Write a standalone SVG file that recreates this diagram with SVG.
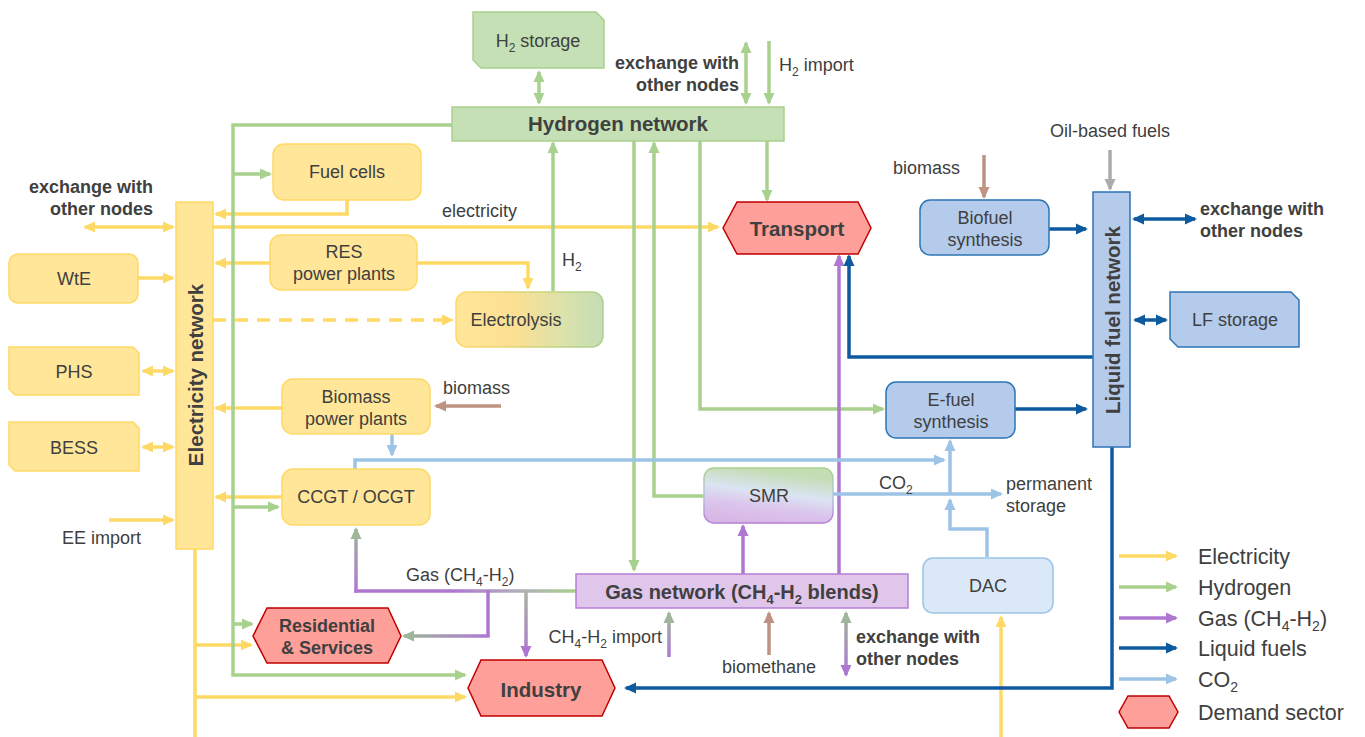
<svg xmlns="http://www.w3.org/2000/svg" width="1365" height="737" viewBox="0 0 1365 737">
<style>
.t{font-family:"Liberation Sans",Arial,sans-serif;font-size:18px;fill:#404040}
.b{font-weight:bold}
.c{text-anchor:middle}
.r{text-anchor:end}
.net{font-family:"Liberation Sans",Arial,sans-serif;font-size:20.5px;font-weight:bold;fill:#404040;text-anchor:middle}
.leg{font-family:"Liberation Sans",Arial,sans-serif;font-size:21.5px;fill:#404040}
.ln{fill:none;stroke-width:3.5}
.y{stroke:#FFD966}
.g{stroke:#A9D18E}
.p{stroke:#AE78D2}
.bl{stroke:#0E5A9E}
.co{stroke:#9DC3E6}
.br{stroke:#BF9382}
.gr{stroke:#ABABAB}
.eN{fill:#FFE699;stroke:#FFD966;stroke-width:1.5}
.hN{fill:#C5E0B4;stroke:#A9D18E;stroke-width:1.5}
.lN{fill:#B4CBEB;stroke:#2E75B6;stroke-width:1.5}
.gN{fill:#E1C6EB;stroke:#B57FD6;stroke-width:1.5}
.dN{fill:#FF9F99;stroke:#C00000;stroke-width:1.5}
.cN{fill:#DAE8F7;stroke:#9DC3E6;stroke-width:1.5}
</style>
<defs>
<marker id="mY" viewBox="0 0 12 12" refX="10" refY="6" markerWidth="12" markerHeight="12" markerUnits="userSpaceOnUse" orient="auto-start-reverse"><path d="M0,0.5 L12,6 L0,11.5z" fill="#FFD966"/></marker>
<marker id="mG" viewBox="0 0 12 12" refX="10" refY="6" markerWidth="12" markerHeight="12" markerUnits="userSpaceOnUse" orient="auto-start-reverse"><path d="M0,0.5 L12,6 L0,11.5z" fill="#A9D18E"/></marker>
<marker id="mP" viewBox="0 0 12 12" refX="10" refY="6" markerWidth="12" markerHeight="12" markerUnits="userSpaceOnUse" orient="auto-start-reverse"><path d="M0,0.5 L12,6 L0,11.5z" fill="#AE78D2"/></marker>
<marker id="mB" viewBox="0 0 12 12" refX="10" refY="6" markerWidth="12" markerHeight="12" markerUnits="userSpaceOnUse" orient="auto-start-reverse"><path d="M0,0.5 L12,6 L0,11.5z" fill="#0E5A9E"/></marker>
<marker id="mC" viewBox="0 0 12 12" refX="10" refY="6" markerWidth="12" markerHeight="12" markerUnits="userSpaceOnUse" orient="auto-start-reverse"><path d="M0,0.5 L12,6 L0,11.5z" fill="#9DC3E6"/></marker>
<marker id="mBr" viewBox="0 0 12 12" refX="10" refY="6" markerWidth="12" markerHeight="12" markerUnits="userSpaceOnUse" orient="auto-start-reverse"><path d="M0,0.5 L12,6 L0,11.5z" fill="#BF9382"/></marker>
<marker id="mGr" viewBox="0 0 12 12" refX="10" refY="6" markerWidth="12" markerHeight="12" markerUnits="userSpaceOnUse" orient="auto-start-reverse"><path d="M0,0.5 L12,6 L0,11.5z" fill="#ABABAB"/></marker>
<marker id="mGG" viewBox="0 0 12 12" refX="10" refY="6" markerWidth="12" markerHeight="12" markerUnits="userSpaceOnUse" orient="auto-start-reverse"><path d="M0,0.5 L12,6 L0,11.5z" fill="#9FB69B"/></marker>
<linearGradient id="gElec" x1="0" y1="0" x2="1" y2="0"><stop offset="0" stop-color="#FFE699"/><stop offset="0.4" stop-color="#FCDF93"/><stop offset="0.72" stop-color="#DCE2AA"/><stop offset="1" stop-color="#C5DDB5"/></linearGradient>
<linearGradient id="gElecS" x1="0" y1="0" x2="1" y2="0"><stop offset="0" stop-color="#FFD966"/><stop offset="1" stop-color="#A9D18E"/></linearGradient>
<linearGradient id="gSMR" x1="0.35" y1="1" x2="0.65" y2="0"><stop offset="0" stop-color="#D8B6E6"/><stop offset="0.3" stop-color="#DCC6EC"/><stop offset="0.55" stop-color="#DAE4F3"/><stop offset="0.9" stop-color="#C5DDB5"/></linearGradient>
<linearGradient id="gSMRs" x1="0" y1="0" x2="0" y2="1"><stop offset="0" stop-color="#A9D18E"/><stop offset="0.5" stop-color="#B5C6E0"/><stop offset="1" stop-color="#B57FD6"/></linearGradient>
<linearGradient id="gGasH" gradientUnits="userSpaceOnUse" x1="576" y1="0" x2="356" y2="0"><stop offset="0" stop-color="#A9D18E"/><stop offset="0.3" stop-color="#B3A8BC"/><stop offset="0.55" stop-color="#AE78D2"/></linearGradient>
<linearGradient id="gGasV" gradientUnits="userSpaceOnUse" x1="0" y1="591" x2="0" y2="527"><stop offset="0" stop-color="#AE78D2"/><stop offset="1" stop-color="#9FB69B"/></linearGradient>
<linearGradient id="gRes" gradientUnits="userSpaceOnUse" x1="488" y1="0" x2="404" y2="0"><stop offset="0" stop-color="#AE78D2"/><stop offset="1" stop-color="#9FB69B"/></linearGradient>
<linearGradient id="gInd" gradientUnits="userSpaceOnUse" x1="0" y1="591" x2="0" y2="657"><stop offset="0" stop-color="#A9B4A2"/><stop offset="1" stop-color="#AE78D2"/></linearGradient>
<linearGradient id="gImp" gradientUnits="userSpaceOnUse" x1="0" y1="657" x2="0" y2="613"><stop offset="0" stop-color="#AE78D2"/><stop offset="1" stop-color="#9FB69B"/></linearGradient>
<linearGradient id="gExc" gradientUnits="userSpaceOnUse" x1="0" y1="611" x2="0" y2="677"><stop offset="0" stop-color="#9FB69B"/><stop offset="1" stop-color="#AE78D2"/></linearGradient>
</defs>
<rect width="1365" height="737" fill="#FFFFFF"/>

<g id="connectors">
<!-- electricity -->
<path class="ln y" d="M85,227 H173" marker-start="url(#mY)" marker-end="url(#mY)"/>
<path class="ln y" d="M347,200 V214 H216" marker-end="url(#mY)"/>
<path class="ln y" d="M213,227 H718" marker-end="url(#mY)"/>
<path class="ln y" d="M270,263 H216" marker-end="url(#mY)"/>
<path class="ln y" d="M417,263 H528 V288" marker-end="url(#mY)"/>
<path class="ln y" d="M213,320 H452" stroke-dasharray="13,9" marker-end="url(#mY)"/>
<path class="ln y" d="M138,278 H173" marker-end="url(#mY)"/>
<path class="ln y" d="M143,371 H173" marker-start="url(#mY)" marker-end="url(#mY)"/>
<path class="ln y" d="M143,447 H173" marker-start="url(#mY)" marker-end="url(#mY)"/>
<path class="ln y" d="M109,520 H173" marker-end="url(#mY)"/>
<path class="ln y" d="M282,408 H216" marker-end="url(#mY)"/>
<path class="ln y" d="M282,497 H216" marker-end="url(#mY)"/>
<path class="ln y" d="M195,549 V737"/>
<path class="ln y" d="M195,645 H251" marker-end="url(#mY)"/>
<path class="ln y" d="M195,697 H465" marker-end="url(#mY)"/>
<path class="ln y" d="M1001,737 V617" marker-end="url(#mY)"/>
<!-- hydrogen -->
<path class="ln g" d="M452,125 H233 V675 H465" marker-end="url(#mG)"/>
<path class="ln g" d="M233,174 H270" marker-end="url(#mG)"/>
<path class="ln g" d="M233,507 H278" marker-end="url(#mG)"/>
<path class="ln g" d="M233,624 H252" marker-end="url(#mG)"/>
<path class="ln g" d="M539,72 V103" marker-start="url(#mG)" marker-end="url(#mG)"/>
<path class="ln g" d="M746,43 V103" marker-start="url(#mG)" marker-end="url(#mG)"/>
<path class="ln g" d="M769,41 V103" marker-end="url(#mG)"/>
<path class="ln g" d="M553,291 V143" marker-end="url(#mG)"/>
<path class="ln g" d="M634,141 V570" marker-end="url(#mG)"/>
<path class="ln g" d="M704,496 H654 V143" marker-end="url(#mG)"/>
<path class="ln g" d="M700,141 V409 H883" marker-end="url(#mG)"/>
<path class="ln g" d="M767,141 V200" marker-end="url(#mG)"/>
<!-- gas -->
<path class="ln p" d="M839,574 V256" marker-end="url(#mP)"/>
<path class="ln p" d="M743,574 V526" marker-end="url(#mP)"/>
<path class="ln" stroke="url(#gGasH)" d="M576,591 H354.3"/>
<path class="ln" stroke="url(#gGasV)" d="M356,592.7 V529" marker-end="url(#mGG)"/>
<path class="ln" stroke="#AE78D2" d="M488,590 V636"/>
<path class="ln" stroke="url(#gRes)" d="M489.7,636 H404" marker-end="url(#mGG)"/>
<path class="ln" stroke="url(#gInd)" d="M526,591 V656" marker-end="url(#mP)"/>
<path class="ln" stroke="url(#gImp)" d="M669,657 V613" marker-end="url(#mGG)"/>
<path class="ln" stroke="url(#gExc)" d="M846,613 V675" marker-start="url(#mGG)" marker-end="url(#mP)"/>
<!-- liquid fuels -->
<path class="ln bl" d="M1093,357 H849 V256" marker-end="url(#mB)"/>
<path class="ln bl" d="M1049,229 H1086" marker-end="url(#mB)"/>
<path class="ln bl" d="M1015,409 H1086" marker-end="url(#mB)"/>
<path class="ln bl" d="M1134,219 H1195" marker-start="url(#mB)" marker-end="url(#mB)"/>
<path class="ln bl" d="M1135,320 H1166" marker-start="url(#mB)" marker-end="url(#mB)"/>
<path class="ln bl" d="M1112,447 V688 H626" marker-end="url(#mB)"/>
<!-- CO2 -->
<path class="ln co" d="M392,434 V455" marker-end="url(#mC)"/>
<path class="ln co" d="M355,469 V460 H944" marker-end="url(#mC)"/>
<path class="ln co" d="M987,557 V529 H950 V500" marker-end="url(#mC)"/>
<path class="ln co" d="M950,495 V441" marker-end="url(#mC)"/>
<path class="ln co" d="M833,494 H1001" marker-end="url(#mC)"/>
<!-- biomass / oil -->
<path class="ln br" d="M984,155 V197" marker-end="url(#mBr)"/>
<path class="ln br" d="M501,406 H436" marker-end="url(#mBr)"/>
<path class="ln br" d="M769,655 V613" marker-end="url(#mBr)"/>
<path class="ln gr" d="M1110,150 V189" marker-end="url(#mGr)"/>
</g>

<g id="h2storage"><polygon class="hN" points="473,12 596,12 604,20 604,68 481,68 473,60"/><text class="t c" x="538" y="47">H<tspan font-size="12" dy="5">2</tspan><tspan dy="-5"> storage</tspan></text></g>
<g id="h2exchange-label"><text class="t b r" x="739" y="69">exchange with</text><text class="t b r" x="739" y="91">other nodes</text><text class="t" x="779" y="71">H<tspan font-size="12" dy="5">2</tspan><tspan dy="-5"> import</tspan></text></g>
<g id="hydrogen-network"><rect class="hN" x="452" y="107" width="332" height="34"/><text class="net" x="618" y="131">Hydrogen network</text></g>
<g id="electricity-network"><rect class="eN" x="176" y="202" width="37" height="347"/><text class="net" transform="translate(195,375) rotate(-90)" x="0" y="7.5">Electricity network</text></g>
<g id="el-exchange-label"><text class="t b r" x="153" y="193">exchange with</text><text class="t b r" x="153" y="215">other nodes</text></g>
<g id="fuel-cells"><rect class="eN" x="273" y="144" width="148" height="56" rx="11"/><text class="t c" x="347" y="178">Fuel cells</text></g>
<g id="electricity-label"><text class="t" x="442" y="217">electricity</text></g>
<g id="res"><rect class="eN" x="270" y="235" width="147" height="55" rx="11"/><text class="t c" x="344" y="258">RES</text><text class="t c" x="344" y="280">power plants</text></g>
<g id="electrolysis"><rect x="456" y="292" width="147" height="55" rx="11" fill="url(#gElec)" stroke="url(#gElecS)" stroke-width="1.5"/><text class="t c" x="516" y="326">Electrolysis</text><text class="t" x="562" y="266">H<tspan font-size="12" dy="5">2</tspan></text></g>
<g id="wte"><rect class="eN" x="9" y="254" width="129" height="49" rx="9"/><text class="t c" x="74" y="285">WtE</text></g>
<g id="phs"><polygon class="eN" points="9,347 133,347 139,353 139,395 15,395 9,389"/><text class="t c" x="74" y="378">PHS</text></g>
<g id="bess"><polygon class="eN" points="9,422 133,422 139,428 139,471 15,471 9,465"/><text class="t c" x="74" y="454">BESS</text></g>
<g id="ee-import"><text class="t" x="62" y="544">EE import</text></g>
<g id="biomass-pp"><rect class="eN" x="282" y="379" width="148" height="55" rx="11"/><text class="t c" x="356" y="403">Biomass</text><text class="t c" x="356" y="425">power plants</text><text class="t" x="443" y="394">biomass</text></g>
<g id="ccgt"><rect class="eN" x="282" y="469" width="148" height="56" rx="11"/><text class="t c" x="356" y="503">CCGT / OCGT</text></g>
<g id="transport"><polygon class="dN" points="723,228 737,202 858,202 871,228 858,254 737,254"/><text class="net" x="797" y="236">Transport</text></g>
<g id="biofuel"><rect class="lN" x="920" y="200" width="129" height="55" rx="10"/><text class="t c" x="985" y="224">Biofuel</text><text class="t c" x="985" y="246">synthesis</text><text class="t" x="893" y="174">biomass</text></g>
<g id="oil"><text class="t c" x="1110" y="137">Oil-based fuels</text></g>
<g id="liquid-network"><rect class="lN" x="1093" y="192" width="37" height="255"/><text class="net" transform="translate(1112,320) rotate(-90)" x="0" y="7.5">Liquid fuel network</text></g>
<g id="lf-exchange-label"><text class="t b" x="1200" y="215">exchange with</text><text class="t b" x="1200" y="237">other nodes</text></g>
<g id="lf-storage"><polygon class="lN" points="1170,292 1291,292 1299,300 1299,347 1178,347 1170,339"/><text class="t c" x="1235" y="326">LF storage</text></g>
<g id="efuel"><rect class="lN" x="886" y="382" width="129" height="56" rx="10"/><text class="t c" x="951" y="406">E-fuel</text><text class="t c" x="951" y="428">synthesis</text></g>
<g id="smr"><rect x="704" y="468" width="129" height="55" rx="10" fill="url(#gSMR)" stroke="url(#gSMRs)" stroke-width="1.5"/><text class="t c" x="769" y="502">SMR</text></g>
<g id="co2-labels"><text class="t" x="879" y="489">CO<tspan font-size="12" dy="5">2</tspan></text><text class="t" x="1006" y="490">permanent</text><text class="t" x="1006" y="512">storage</text></g>
<g id="dac"><rect class="cN" x="923" y="558" width="130" height="55" rx="10"/><text class="t c" x="988" y="592">DAC</text></g>
<g id="gas-network"><rect class="gN" x="576" y="574" width="332" height="34"/><text class="net" x="742" y="599" style="font-size:20px">Gas network (CH<tspan font-size="13" dy="5">4</tspan><tspan dy="-5">-H</tspan><tspan font-size="13" dy="5">2</tspan><tspan dy="-5"> blends)</tspan></text></g>
<g id="gas-labels"><text class="t" x="406" y="581">Gas (CH<tspan font-size="12" dy="5">4</tspan><tspan dy="-5">-H</tspan><tspan font-size="12" dy="5">2</tspan><tspan dy="-5">)</tspan></text><text class="t r" x="662" y="643">CH<tspan font-size="12" dy="5">4</tspan><tspan dy="-5">-H</tspan><tspan font-size="12" dy="5">2</tspan><tspan dy="-5"> import</tspan></text><text class="t c" x="769" y="673">biomethane</text><text class="t b" x="856" y="643">exchange with</text><text class="t b" x="856" y="665">other nodes</text></g>
<g id="industry"><polygon class="dN" points="468,688 481,660 602,660 615,688 602,716 481,716"/><text class="net" x="541" y="697">Industry</text></g>
<g id="residential"><polygon class="dN" points="253,636 267,608 388,608 401,636 388,663 267,663"/><text class="t b c" x="327" y="632">Residential</text><text class="t b c" x="327" y="654">&amp; Services</text></g>
<g id="legend">
<path class="ln y" d="M1119,556 H1176" marker-end="url(#mY)"/>
<path class="ln g" d="M1119,587 H1176" marker-end="url(#mG)"/>
<path class="ln p" d="M1119,618 H1176" marker-end="url(#mP)"/>
<path class="ln bl" d="M1119,648 H1176" marker-end="url(#mB)"/>
<path class="ln co" d="M1119,679 H1176" marker-end="url(#mC)"/>
<polygon class="dN" points="1119,712 1128,696 1169,696 1178,712 1169,728 1128,728"/>
<text class="leg" x="1198" y="564">Electricity</text>
<text class="leg" x="1198" y="595">Hydrogen</text>
<text class="leg" x="1198" y="626">Gas (CH<tspan font-size="14" dy="5">4</tspan><tspan dy="-5">-H</tspan><tspan font-size="14" dy="5">2</tspan><tspan dy="-5">)</tspan></text>
<text class="leg" x="1198" y="656">Liquid fuels</text>
<text class="leg" x="1198" y="687">CO<tspan font-size="14" dy="5">2</tspan></text>
<text class="leg" x="1198" y="720">Demand sector</text>
</g>
</svg>
